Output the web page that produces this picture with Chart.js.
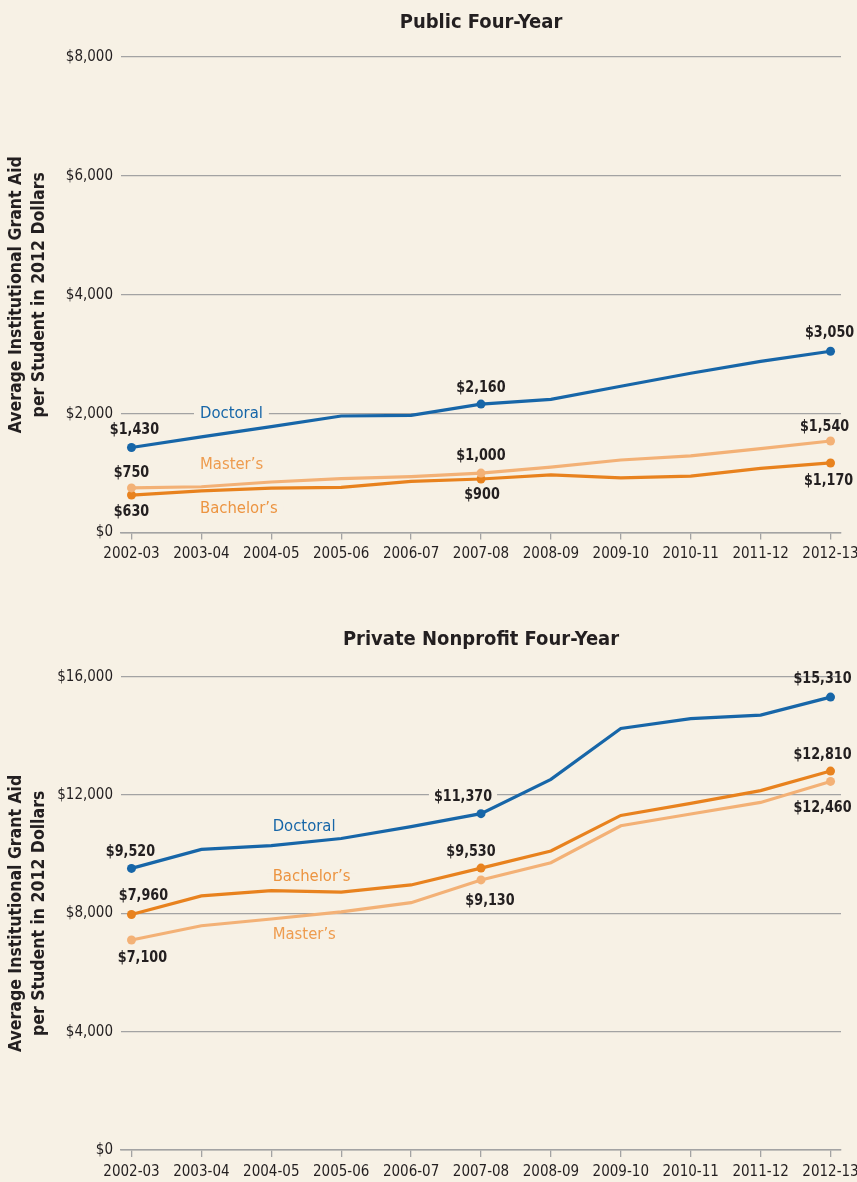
<!DOCTYPE html>
<html>
<head>
<meta charset="utf-8">
<title>Average Institutional Grant Aid per Student</title>
<script src="https://cdn.jsdelivr.net/npm/chart.js@4.4.1/dist/chart.umd.min.js"></script>
<style>
  html, body { margin: 0; padding: 0; background: #f7f1e5; }
  #wrap { position: relative; width: 857px; height: 1182px; }
  .box { position: absolute; left: 0; width: 857px; }
  #box1 { top: 0; height: 590px; }
  #box2 { top: 590px; height: 592px; }
</style>
</head>
<body>
<div id="wrap">
  <div class="box" id="box1"><canvas id="publicChart"></canvas></div>
  <div class="box" id="box2"><canvas id="privateChart"></canvas></div>
</div>
<script>
// Academic years on the horizontal axis
const years = ['2002-03', '2003-04', '2004-05', '2005-06', '2006-07', '2007-08',
               '2008-09', '2009-10', '2010-11', '2011-12', '2012-13'];

// Public four-year institutions (2012 dollars)
const publicDoctoral  = [1430, 1610, 1780, 1960, 1970, 2160, 2240, 2460, 2680, 2880, 3050];
const publicMasters   = [750, 770, 850, 905, 940, 1000, 1100, 1220, 1290, 1410, 1540];
const publicBachelors = [630, 700, 745, 760, 860, 900, 970, 920, 950, 1080, 1170];
const publicTicks     = [0, 2000, 4000, 6000, 8000];

// Private nonprofit four-year institutions (2012 dollars)
const privateDoctoral  = [9520, 10160, 10290, 10530, 10930, 11370, 12530, 14250, 14580, 14700, 15310];
const privateBachelors = [7960, 8590, 8770, 8720, 8960, 9530, 10110, 11310, 11720, 12150, 12810];
const privateMasters   = [7100, 7580, 7810, 8050, 8360, 9130, 9710, 10960, 11360, 11750, 12460];
const privateTicks     = [0, 4000, 8000, 12000, 16000];

const FONT = "'Liberation Sans Narrow', 'DejaVu Sans Condensed', 'Arial Narrow', sans-serif";
const BG = '#f7f1e5';
const INK = '#231f20';
const GRID = '#a3a3a3';
const BLUE = '#1766a8';
const ORANGE = '#e8821e';
const LIGHT = '#f3b176';

const money = v => '$' + v.toLocaleString('en-US');

function lineSet(label, data, color, labelled) {
  return {
    label,
    data: data.map((v, i) => ({ x: i, y: v })),
    borderColor: color,
    backgroundColor: color,
    borderWidth: 3.2,
    pointRadius: data.map((v, i) => labelled.includes(i) ? 4.5 : 0),
    pointHoverRadius: 0,
    pointBorderWidth: 0,
    tension: 0,
    clip: false
  };
}

// Draws the series names inside the plot and the dollar callouts next to chosen points
const annotate = {
  id: 'annotate',
  afterDatasetsDraw(chart, args, opts) {
    const ctx = chart.ctx;
    const xs = chart.scales.x, ys = chart.scales.y;
    ctx.save();
    ctx.font = '16.5px ' + FONT;
    ctx.textBaseline = 'middle';
    ctx.textAlign = 'left';
    (opts.names || []).forEach(n => {
      const px = xs.getPixelForValue(n.x);
      const py = ys.getPixelForValue(n.y);
      const w = ctx.measureText(n.text).width;
      ctx.fillStyle = BG;
      ctx.fillRect(px - 6, py - 3, w + 12, 6);
      ctx.fillStyle = n.color;
      ctx.fillText(n.text, px, py);
    });
    // callouts use a slightly squeezed bold face
    const squeeze = 0.86;
    ctx.font = 'bold 16.5px ' + FONT;
    ctx.textAlign = 'center';
    (opts.values || []).forEach(c => {
      const ds = chart.data.datasets[c.ds];
      const pt = ds.data[c.i];
      const px = xs.getPixelForValue(pt.x) + c.dx;
      const py = ys.getPixelForValue(pt.y) + c.dy;
      const text = money(pt.y);
      if (c.mask) {
        const w = ctx.measureText(text).width * squeeze;
        ctx.fillStyle = BG;
        ctx.fillRect(px - w / 2 - 5, py - 3, w + 10, 6);
      }
      ctx.save();
      ctx.translate(px, py);
      ctx.scale(squeeze, 1);
      ctx.fillStyle = INK;
      ctx.fillText(text, 0, 0);
      ctx.restore();
    });
    ctx.restore();
  }
};

function makeChart(canvasId, cfg) {
  return new Chart(document.getElementById(canvasId), {
    type: 'line',
    data: { datasets: cfg.datasets },
    options: {
      responsive: true,
      maintainAspectRatio: false,
      animation: false,
      events: [],
      layout: { padding: { top: 0, right: 16, left: 0, bottom: 0 } },
      plugins: {
        legend: { display: false },
        tooltip: { enabled: false },
        title: {
          display: true,
          text: cfg.title,
          fullSize: false,
          color: INK,
          font: { family: FONT, size: 20, weight: 'bold', lineHeight: 1.2 },
          padding: cfg.titlePadding
        },
        annotate: { names: cfg.names, values: cfg.values }
      },
      scales: {
        x: {
          type: 'linear',
          min: -0.15,
          max: 10.15,
          afterBuildTicks: s => { s.ticks = years.map((y, i) => ({ value: i })); },
          afterFit: s => { s.height = cfg.xHeight; s.paddingLeft = 0; s.paddingRight = 0; },
          ticks: {
            autoSkip: false,
            maxRotation: 0,
            padding: 6,
            color: INK,
            font: { family: FONT, size: 15 },
            callback: v => years[v]
          },
          grid: { drawOnChartArea: false, drawTicks: true, tickLength: 7, color: GRID, lineWidth: 1.3 },
          border: { display: true, color: GRID, width: 1.6 }
        },
        y: {
          min: cfg.ticks[0],
          max: cfg.ticks[cfg.ticks.length - 1],
          afterBuildTicks: s => { s.ticks = cfg.ticks.map(v => ({ value: v })); },
          afterFit: s => { s.width = 121; },
          ticks: {
            padding: 8,
            color: INK,
            font: { family: FONT, size: 15 },
            callback: v => money(v)
          },
          grid: { drawTicks: false, color: GRID, lineWidth: 1.3 },
          border: { display: false },
          title: {
            display: true,
            text: ['Average Institutional Grant Aid', 'per Student in 2012 Dollars'],
            color: INK,
            font: { family: FONT, size: 17.5, weight: 'bold', lineHeight: 1.3 },
            padding: { top: 5, bottom: 0 }
          }
        }
      }
    },
    plugins: [annotate]
  });
}

makeChart('publicChart', {
  title: 'Public Four-Year',
  titlePadding: { top: 11, bottom: 22 },
  xHeight: 57.5,
  ticks: publicTicks,
  datasets: [
    lineSet('Doctoral', publicDoctoral, BLUE, [0, 5, 10]),
    lineSet("Master's", publicMasters, LIGHT, [0, 5, 10]),
    lineSet("Bachelor's", publicBachelors, ORANGE, [0, 5, 10])
  ],
  names: [
    { text: 'Doctoral', x: 0.98, y: 2000, color: BLUE },
    { text: 'Master\u2019s', x: 0.98, y: 1136, color: '#ee9c4f' },
    { text: 'Bachelor\u2019s', x: 0.98, y: 407, color: '#ec9441' }
  ],
  values: [
    { ds: 0, i: 0, dx: 3, dy: -18 },
    { ds: 0, i: 5, dx: 0, dy: -16 },
    { ds: 0, i: 10, dx: -1, dy: -18 },
    { ds: 1, i: 0, dx: 0, dy: -15 },
    { ds: 1, i: 5, dx: 0, dy: -17 },
    { ds: 1, i: 10, dx: -6, dy: -14 },
    { ds: 2, i: 0, dx: 0, dy: 17 },
    { ds: 2, i: 5, dx: 1, dy: 16 },
    { ds: 2, i: 10, dx: -2, dy: 18 }
  ]
});

makeChart('privateChart', {
  title: 'Private Nonprofit Four-Year',
  titlePadding: { top: 38, bottom: 24.7 },
  xHeight: 32,
  ticks: privateTicks,
  datasets: [
    lineSet('Doctoral', privateDoctoral, BLUE, [0, 5, 10]),
    lineSet("Bachelor's", privateBachelors, ORANGE, [0, 5, 10]),
    lineSet("Master's", privateMasters, LIGHT, [0, 5, 10])
  ],
  names: [
    { text: 'Doctoral', x: 2.02, y: 10930, color: BLUE },
    { text: 'Bachelor\u2019s', x: 2.02, y: 9240, color: '#ec9441' },
    { text: 'Master\u2019s', x: 2.02, y: 7270, color: '#ee9c4f' }
  ],
  values: [
    { ds: 0, i: 0, dx: -1, dy: -17 },
    { ds: 0, i: 5, dx: -18, dy: -17, mask: true },
    { ds: 0, i: 10, dx: -8, dy: -18 },
    { ds: 1, i: 0, dx: 12, dy: -19 },
    { ds: 1, i: 5, dx: -10, dy: -16 },
    { ds: 1, i: 10, dx: -8, dy: -16 },
    { ds: 2, i: 0, dx: 11, dy: 18 },
    { ds: 2, i: 5, dx: 9, dy: 21 },
    { ds: 2, i: 10, dx: -8, dy: 26 }
  ]
});
</script>
</body>
</html>
